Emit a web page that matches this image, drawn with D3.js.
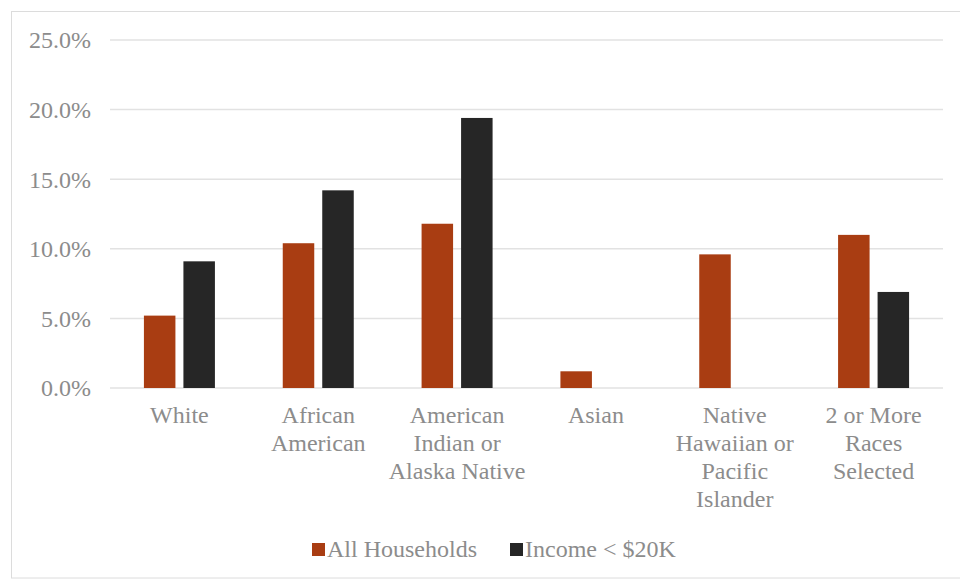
<!DOCTYPE html>
<html><head><meta charset="utf-8">
<script src="https://cdn.jsdelivr.net/npm/d3@7"></script>
</head><body style="margin:0"><svg id="c" width="960" height="580" font-family="Liberation Serif, Times New Roman, serif"></svg>
<script>
const categories = [["White"],["African","American"],["American","Indian or","Alaska Native"],["Asian"],["Native","Hawaiian or","Pacific","Islander"],["2 or More","Races","Selected"]];
const seriesNames = ["All Households","Income < $20K"];
const allHouseholds = [5.2,10.4,11.8,1.2,9.6,11.0];
const incomeUnder20k = [9.1,14.2,19.4,null,null,6.9];
const yTicks = [0,5,10,15,20,25];
const colors = ["#A93D12","#262626"];

(function(){
const svg = d3.select("#c");
const textColor = "#8c8c8c";
const FONT = '"Liberation Serif", "Times New Roman", serif';
const fs = 24;
svg.append("rect").attr("x",11.5).attr("y",11.5).attr("width",960).attr("height",566.5)
  .attr("fill","none").attr("stroke","#dcdcdc");

const pL=110, pR=943, pT=40, pB=388;
const x = d3.scaleBand().domain(d3.range(categories.length)).range([pL,pR]);
const y = d3.scaleLinear().domain([0,25]).range([pB,pT]);

svg.append("g").selectAll("line").data(yTicks).join("line")
  .attr("x1",pL).attr("x2",pR).attr("y1",d=>y(d)).attr("y2",d=>y(d))
  .attr("stroke","#e2e2e2").attr("stroke-width",1.5);

const yAxis = d3.axisLeft(y).tickValues(yTicks).tickFormat(d=>d.toFixed(1)+"%").tickSize(0).tickPadding(0);
const ga = svg.append("g").attr("transform",`translate(91,0)`).call(yAxis);
ga.attr("font-family",null).attr("font-size",null);
ga.select(".domain").remove();
ga.selectAll("text").style("font-family",FONT).attr("font-size",fs).attr("fill",textColor).attr("dy","0.33em");

const barW = 31.5, gap = 8;
const series = [allHouseholds, incomeUnder20k];
series.forEach((vals,si)=>{
  svg.append("g").selectAll("rect").data(vals.map((v,i)=>({v,i})).filter(d=>d.v!=null)).join("rect")
    .attr("x",d=>x(d.i)+x.bandwidth()/2 + (si===0 ? -gap/2-barW : gap/2))
    .attr("width",barW)
    .attr("y",d=>y(d.v)).attr("height",d=>y(0)-y(d.v))
    .attr("fill",colors[si]);
});

const xg = svg.append("g");
categories.forEach((lines,i)=>{
  const t = xg.append("text").attr("x",x(i)+x.bandwidth()/2).attr("y",423)
    .attr("text-anchor","middle").style("font-family",FONT).attr("font-size",fs).attr("fill",textColor);
  lines.forEach((l,j)=>t.append("tspan").attr("x",x(i)+x.bandwidth()/2).attr("y",423+j*28).style("font-family",FONT).text(l));
});

const legendX = [312,510];
seriesNames.forEach((n,i)=>{
  svg.append("rect").attr("x",legendX[i]).attr("y",543).attr("width",13).attr("height",13).attr("fill",colors[i]);
  svg.append("text").attr("x",legendX[i]+15).attr("y",557).style("font-family",FONT).attr("font-size",fs)
    .attr("fill",textColor).text(n);
});
})();
</script></body></html>
